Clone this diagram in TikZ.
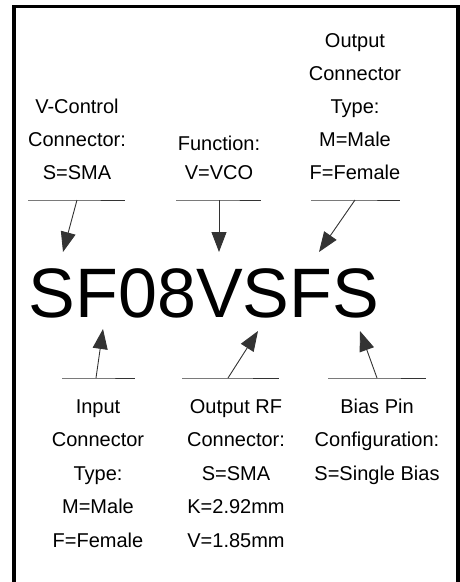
\documentclass[tikz,border=0pt]{standalone}
\usepackage{fontspec}
\setmainfont{Liberation Sans}
\usetikzlibrary{arrows.meta}

\begin{document}
\begin{tikzpicture}[>={Triangle[length=20pt,width=15pt]},x=1pt,y=-1pt,
        lbl/.style={align=center,anchor=base,inner sep=0pt,font=\fontsize{20}{33}\selectfont},
        lblb/.style={lbl,font=\fontsize{20}{33.5}\selectfont},
        bar/.style={line width=0.9pt,draw=black!80}]
    \useasboundingbox (0,0) rectangle (460,582);
    % frame, open at the bottom
    \draw[line width=3.2pt] (14,582) -- (14,6.5) -- (458,6.5) -- (458,582);
    % part number
    \node[inner sep=0pt,anchor=base,font=\fontsize{70}{70}\selectfont] (PN) at (204,317.5) {SF08VSFS};
    % labels above
    \node[lbl] (VC) at (77,179) {V-Control\\Connector:\\S=SMA};
    \node[lbl] (FN) at (219,179) {Function:\\[-4pt]V=VCO};
    \node[lbl] (OC) at (355,179.5) {Output\\Connector\\Type:\\M=Male\\F=Female};
    % labels below
    \node[lblb] (IC) at (98,547) {Input\\Connector\\Type:\\M=Male\\F=Female};
    \node[lblb] (RF) at (236,547) {Output RF\\Connector:\\S=SMA\\K=2.92mm\\V=1.85mm};
    \node[lblb] (BP) at (377,480) {Bias Pin\\Configuration:\\S=Single Bias};
    % bars and pointers, top
    \coordinate (VCa) at (77,200);  \coordinate (VCt) at (63,252);
    \coordinate (FNa) at (219,200); \coordinate (FNt) at (219,252);
    \coordinate (OCa) at (355,200); \coordinate (OCt) at (319,252);
    \draw[bar] (28,200) -- (VCa) -- (125,200);
    \draw[bar] (176,200) -- (FNa) -- (261,200);
    \draw[bar] (311,200) -- (OCa) -- (400,200);
    \draw[->,bar] (VCa) -- (VCt);
    \draw[->,bar] (FNa) -- (FNt);
    \draw[->,bar] (OCa) -- (OCt);
    % bars and pointers, bottom
    \coordinate (ICa) at (96,378);  \coordinate (ICt) at (103,329);
    \coordinate (RFa) at (228,378); \coordinate (RFt) at (258,331);
    \coordinate (BPa) at (377,378); \coordinate (BPt) at (360,331);
    \draw[bar] (62,378) -- (ICa) -- (135,378);
    \draw[bar] (182,378) -- (RFa) -- (279,378);
    \draw[bar] (328,378) -- (BPa) -- (426,378);
    \draw[->,bar] (ICa) -- (ICt);
    \draw[->,bar] (RFa) -- (RFt);
    \draw[->,bar] (BPa) -- (BPt);
\end{tikzpicture}
\end{document}
